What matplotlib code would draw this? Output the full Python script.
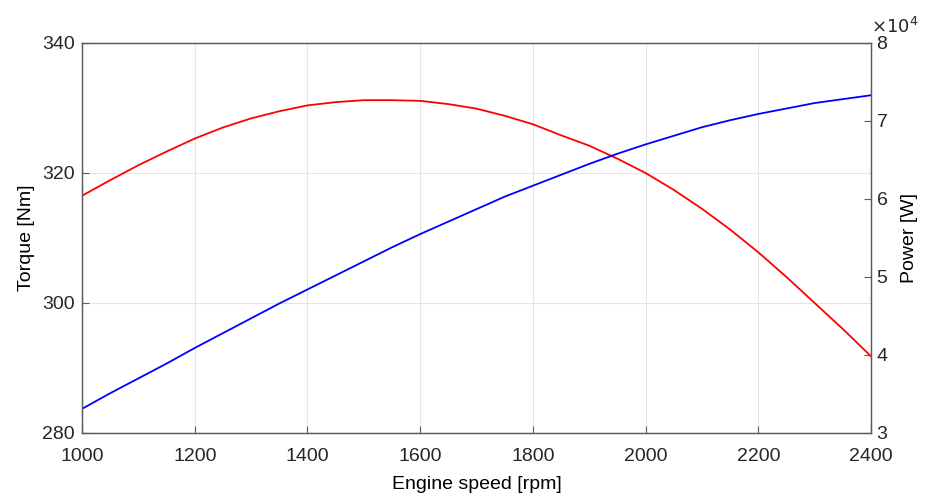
import matplotlib
matplotlib.use('Agg')
import matplotlib.pyplot as plt
from matplotlib.ticker import FuncFormatter

# Values (every 50 rpm)
engine_speed = [1000, 1050, 1100, 1150, 1200, 1250, 1300, 1350, 1400, 1450,
                1500, 1550, 1600, 1650, 1700, 1750, 1800, 1850, 1900, 1950,
                2000, 2050, 2100, 2150, 2200, 2250, 2300, 2350, 2400]
torque = [316.5, 318.9, 321.2, 323.3, 325.3, 327.0, 328.4, 329.5, 330.4, 330.9,
          331.2, 331.2, 331.1, 330.6, 329.9, 328.8, 327.5, 325.8, 324.2, 322.2,
          320.0, 317.4, 314.5, 311.3, 307.8, 304.0, 300.0, 296.0, 291.8]
power = [33100, 35100, 37000, 38900, 40900, 42800, 44700, 46600, 48400, 50200,
         52000, 53800, 55500, 57100, 58700, 60300, 61700, 63100, 64500, 65800,
         67000, 68100, 69200, 70100, 70900, 71600, 72300, 72800, 73300]

x_ticks = [1000, 1200, 1400, 1600, 1800, 2000, 2200, 2400]
torque_ticks = [280, 300, 320, 340]
power_ticks = [30000, 40000, 50000, 60000, 70000, 80000]

plt.rcParams['font.family'] = ['Liberation Sans', 'DejaVu Sans']
axis_color = '#5a5a5a'

fig = plt.figure(figsize=(9.26, 4.97), dpi=100)
ax = fig.add_axes([0.0886, 0.1288, 0.852, 0.7847])

# Torque curve on the left axis
ax.plot(engine_speed, torque, color='#ff0000', linewidth=1.3)
ax.set_xlim(1000, 2400)
ax.set_ylim(280, 340)
ax.set_xticks(x_ticks)
ax.set_yticks(torque_ticks)
ax.grid(True, color='#e4e4e4', linewidth=0.8)
ax.set_axisbelow(True)
ax.set_xlabel('Engine speed [rpm]', fontsize=14, labelpad=8)
ax.set_ylabel('Torque [Nm]', fontsize=14, labelpad=5)
ax.tick_params(direction='in', length=5, labelsize=14, colors=axis_color,
               labelcolor='#262626')
ax.tick_params(axis='x', pad=11)
ax.tick_params(axis='y', pad=5)

# Power curve on the right axis, ticks shown in units of 10^4
ax2 = ax.twinx()
ax2.plot(engine_speed, power, color='#0000ff', linewidth=1.3)
ax2.set_ylim(30000, 80000)
ax2.set_yticks(power_ticks)
ax2.yaxis.set_major_formatter(FuncFormatter(lambda v, pos: '{:g}'.format(v / 1e4)))
ax2.text(1.0, 1.016, r'$\times10^4$', transform=ax2.transAxes, ha='left',
         va='bottom', fontsize=13, color='#262626')
ax2.set_ylabel('Power [W]', fontsize=14, labelpad=10)
ax2.tick_params(direction='in', length=5, labelsize=14, colors=axis_color,
                labelcolor='#262626', pad=4)

for a in (ax, ax2):
    for s in a.spines.values():
        s.set_color(axis_color)
        s.set_linewidth(0.9)

fig.savefig('out.png', dpi=100)
